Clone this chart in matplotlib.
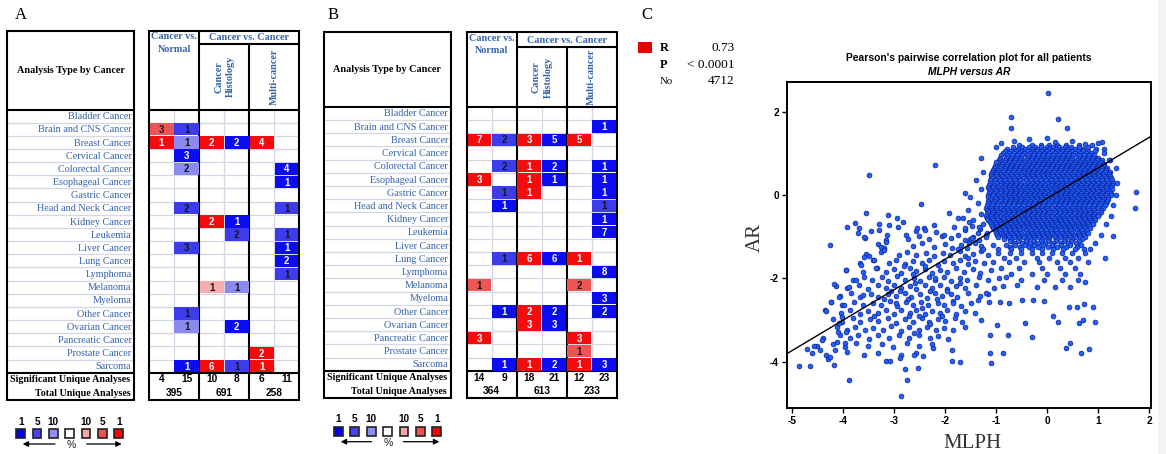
import matplotlib
matplotlib.use("Agg")
import matplotlib.pyplot as plt
from matplotlib.patches import Rectangle
import numpy as np

plt.rcParams["axes.unicode_minus"] = False

# ---------------------------------------------------------------- data
cancer_types = [
    "Bladder Cancer", "Brain and CNS Cancer", "Breast Cancer", "Cervical Cancer",
    "Colorectal Cancer", "Esophageal Cancer", "Gastric Cancer", "Head and Neck Cancer",
    "Kidney Cancer", "Leukemia", "Liver Cancer", "Lung Cancer", "Lymphoma",
    "Melanoma", "Myeloma", "Other Cancer", "Ovarian Cancer", "Pancreatic Cancer",
    "Prostate Cancer", "Sarcoma",
]

# columns: 0/1 cancer vs normal (over/under), 2/3 cancer histology, 4/5 multi-cancer
# cell = (row, column, number of analyses, rank tier: 0 = top 1 %, 1 = top 5 %, 2 = top 10 %)
panel_a_cells = [
    (1, 0, 3, 1), (1, 1, 1, 1),
    (2, 0, 1, 0), (2, 1, 1, 2), (2, 2, 2, 0), (2, 3, 2, 0), (2, 4, 4, 0),
    (3, 1, 3, 0),
    (4, 1, 2, 2), (4, 5, 4, 0),
    (5, 5, 1, 0),
    (7, 1, 2, 1), (7, 5, 1, 1),
    (8, 2, 2, 0), (8, 3, 1, 0),
    (9, 3, 2, 1), (9, 5, 1, 1),
    (10, 1, 3, 1), (10, 5, 1, 0),
    (11, 5, 2, 0),
    (12, 5, 1, 1),
    (13, 2, 1, 2), (13, 3, 1, 2),
    (15, 1, 1, 1),
    (16, 1, 1, 2), (16, 3, 2, 0),
    (18, 4, 2, 0),
    (19, 1, 1, 0), (19, 2, 6, 0), (19, 3, 1, 1), (19, 4, 1, 0),
]
panel_a_significant = [4, 15, 10, 8, 6, 11]
panel_a_total = [395, 691, 258]

panel_b_cells = [
    (1, 5, 1, 0),
    (2, 0, 7, 0), (2, 1, 2, 1), (2, 2, 3, 0), (2, 3, 5, 0), (2, 4, 5, 0),
    (4, 1, 2, 1), (4, 2, 1, 0), (4, 3, 2, 0), (4, 5, 1, 0),
    (5, 0, 3, 0), (5, 2, 1, 0), (5, 3, 1, 0), (5, 5, 1, 0),
    (6, 1, 1, 1), (6, 2, 1, 0), (6, 5, 1, 0),
    (7, 1, 1, 0), (7, 5, 1, 1),
    (8, 5, 1, 0),
    (9, 5, 7, 0),
    (11, 1, 1, 1), (11, 2, 6, 0), (11, 3, 6, 0), (11, 4, 1, 0),
    (12, 5, 8, 0),
    (13, 0, 1, 1), (13, 4, 2, 1),
    (14, 5, 3, 0),
    (15, 1, 1, 0), (15, 2, 2, 0), (15, 3, 2, 0), (15, 5, 2, 0),
    (16, 2, 3, 0), (16, 3, 3, 0),
    (17, 0, 3, 0), (17, 4, 3, 0),
    (18, 4, 1, 1),
    (19, 1, 1, 0), (19, 2, 1, 0), (19, 3, 2, 0), (19, 4, 1, 0), (19, 5, 3, 0),
]
panel_b_significant = [14, 9, 18, 21, 12, 23]
panel_b_total = [364, 613, 233]

scale_labels = ["1", "5", "10", "", "10", "5", "1"]

# correlation statistics
stat_r = "0.73"
stat_p = "< 0.0001"
stat_n = "4712"
fit_slope = 0.731
fit_intercept = -0.082

# MLPH / AR expression, dense core of samples: (AR level, MLPH values)
core_rows = [
    (1.2, [-0.55, -0.3, -0.12, 0.05, 0.2, 0.38, 0.62, 0.88]),
    (1.15, [-0.66, -0.48, -0.36, -0.24, -0.12, 0.0, 0.11, 0.23, 0.36, 0.48, 0.62, 0.8]),
    (1.1, [-0.78, -0.56, -0.43, -0.3, -0.19, -0.06, 0.05, 0.17, 0.3, 0.41, 0.55, 0.7, 0.97, 1.12]),
    (1.05, [-0.82, -0.7, -0.6, -0.5, -0.4, -0.3, -0.2, -0.1, 0.0, 0.1, 0.2, 0.3, 0.4, 0.5, 0.6,
            0.7, 0.81, 0.95]),
    (1.0, [-0.86, -0.74, -0.65, -0.55, -0.45, -0.34, -0.25, -0.15, -0.05, 0.05, 0.16, 0.25, 0.35,
           0.44, 0.55, 0.65, 0.76, 0.86]),
    (0.95, [-0.9, -0.78, -0.68, -0.58, -0.48, -0.38, -0.28, -0.18, -0.08, 0.02, 0.12, 0.22, 0.32,
            0.42, 0.52, 0.62, 0.72, 0.82, 0.93]),
    (0.9, [-0.92, -0.8, -0.7, -0.6, -0.5, -0.4, -0.3, -0.2, -0.1, 0.0, 0.1, 0.2, 0.3, 0.4, 0.5,
           0.6, 0.7, 0.8, 0.9, 1.01]),
    (0.85, [-0.94, -0.82, -0.72, -0.62, -0.52, -0.42, -0.32, -0.22, -0.12, -0.02, 0.08, 0.18, 0.28,
            0.38, 0.48, 0.58, 0.68, 0.78, 0.88, 0.98, 1.08]),
    (0.8, [-0.96, -0.85, -0.75, -0.65, -0.55, -0.45, -0.35, -0.25, -0.15, -0.05, 0.05, 0.15, 0.25,
           0.35, 0.45, 0.55, 0.65, 0.75, 0.85, 0.95, 1.06]),
    (0.75, [-1.0, -0.88, -0.78, -0.68, -0.58, -0.48, -0.38, -0.28, -0.18, -0.08, 0.02, 0.12, 0.22,
            0.32, 0.42, 0.52, 0.62, 0.72, 0.82, 0.92, 1.02, 1.12]),
    (0.7, [-1.02, -0.9, -0.8, -0.7, -0.6, -0.5, -0.4, -0.3, -0.2, -0.1, 0.0, 0.1, 0.2, 0.3, 0.4,
           0.5, 0.6, 0.7, 0.8, 0.9, 1.0, 1.11]),
    (0.65, [-1.04, -0.92, -0.82, -0.72, -0.62, -0.52, -0.42, -0.32, -0.22, -0.12, -0.02, 0.08, 0.18,
            0.28, 0.38, 0.48, 0.58, 0.68, 0.78, 0.88, 0.98, 1.08, 1.18]),
    (0.6, [-1.06, -0.95, -0.85, -0.75, -0.65, -0.55, -0.45, -0.35, -0.25, -0.15, -0.05, 0.05, 0.15,
           0.25, 0.35, 0.45, 0.55, 0.65, 0.75, 0.85, 0.95, 1.05, 1.16]),
    (0.55, [-1.08, -0.97, -0.87, -0.77, -0.67, -0.57, -0.47, -0.37, -0.27, -0.17, -0.07, 0.03, 0.13,
            0.23, 0.33, 0.43, 0.53, 0.63, 0.73, 0.83, 0.93, 1.03, 1.13, 1.23]),
    (0.5, [-1.1, -1.0, -0.9, -0.8, -0.7, -0.6, -0.5, -0.4, -0.3, -0.2, -0.1, 0.0, 0.1, 0.2, 0.3,
           0.4, 0.5, 0.6, 0.7, 0.8, 0.9, 1.0, 1.1, 1.21]),
    (0.45, [-1.1, -0.98, -0.88, -0.78, -0.68, -0.58, -0.48, -0.38, -0.28, -0.18, -0.08, 0.02, 0.12,
            0.22, 0.32, 0.42, 0.52, 0.62, 0.72, 0.82, 0.92, 1.02, 1.12, 1.24]),
    (0.4, [-1.07, -0.95, -0.85, -0.75, -0.65, -0.55, -0.45, -0.35, -0.25, -0.15, -0.05, 0.05, 0.15,
           0.25, 0.35, 0.45, 0.55, 0.65, 0.75, 0.85, 0.95, 1.05, 1.15, 1.26]),
    (0.35, [-1.12, -1.02, -0.92, -0.82, -0.72, -0.62, -0.52, -0.42, -0.32, -0.22, -0.12, -0.02,
            0.08, 0.18, 0.28, 0.38, 0.48, 0.58, 0.68, 0.78, 0.88, 0.98, 1.08, 1.18, 1.28]),
    (0.3, [-1.12, -1.0, -0.9, -0.8, -0.7, -0.6, -0.5, -0.4, -0.3, -0.2, -0.1, 0.0, 0.1, 0.2, 0.3,
           0.4, 0.5, 0.6, 0.7, 0.8, 0.9, 1.0, 1.1, 1.2, 1.3]),
    (0.25, [-1.14, -1.03, -0.93, -0.83, -0.73, -0.63, -0.53, -0.43, -0.33, -0.23, -0.13, -0.03,
            0.07, 0.17, 0.27, 0.37, 0.47, 0.57, 0.67, 0.77, 0.87, 0.97, 1.07, 1.17, 1.28]),
    (0.2, [-1.16, -1.05, -0.95, -0.85, -0.75, -0.65, -0.55, -0.45, -0.35, -0.25, -0.15, -0.05, 0.05,
           0.15, 0.25, 0.35, 0.45, 0.55, 0.65, 0.75, 0.85, 0.95, 1.05, 1.15, 1.26]),
    (0.15, [-1.14, -1.02, -0.92, -0.82, -0.72, -0.62, -0.52, -0.42, -0.32, -0.22, -0.12, -0.02,
            0.08, 0.18, 0.28, 0.38, 0.48, 0.58, 0.68, 0.78, 0.88, 0.98, 1.08, 1.18, 1.27]),
    (0.1, [-1.12, -1.0, -0.9, -0.8, -0.7, -0.6, -0.5, -0.4, -0.3, -0.2, -0.1, 0.0, 0.1, 0.2, 0.3,
           0.4, 0.5, 0.6, 0.7, 0.8, 0.9, 1.0, 1.1, 1.21]),
    (0.05, [-1.14, -1.03, -0.93, -0.83, -0.73, -0.63, -0.53, -0.43, -0.33, -0.23, -0.13, -0.03,
            0.07, 0.17, 0.27, 0.37, 0.47, 0.57, 0.67, 0.77, 0.87, 0.97, 1.07, 1.17, 1.25]),
    (0.0, [-1.16, -1.05, -0.95, -0.85, -0.75, -0.65, -0.55, -0.45, -0.35, -0.25, -0.15, -0.05, 0.05,
           0.15, 0.25, 0.35, 0.45, 0.55, 0.65, 0.75, 0.85, 0.95, 1.05, 1.15, 1.26]),
    (-0.05, [-1.15, -1.02, -0.92, -0.82, -0.72, -0.62, -0.52, -0.42, -0.32, -0.22, -0.12, -0.02,
             0.08, 0.18, 0.28, 0.38, 0.48, 0.58, 0.68, 0.78, 0.88, 0.98, 1.08, 1.2]),
    (-0.1, [-1.12, -1.0, -0.9, -0.8, -0.7, -0.6, -0.5, -0.4, -0.3, -0.2, -0.1, 0.0, 0.1, 0.2, 0.3,
            0.4, 0.5, 0.6, 0.7, 0.8, 0.9, 1.0, 1.1, 1.2]),
    (-0.15, [-1.16, -1.03, -0.93, -0.83, -0.73, -0.63, -0.53, -0.43, -0.33, -0.23, -0.13, -0.03,
             0.07, 0.17, 0.27, 0.37, 0.47, 0.57, 0.67, 0.77, 0.87, 0.97, 1.07, 1.17]),
    (-0.2, [-1.15, -1.05, -0.95, -0.85, -0.75, -0.65, -0.55, -0.45, -0.35, -0.25, -0.15, -0.05, 0.05,
            0.15, 0.25, 0.35, 0.45, 0.55, 0.65, 0.75, 0.85, 0.95, 1.05, 1.15]),
    (-0.25, [-1.18, -1.07, -0.97, -0.87, -0.77, -0.67, -0.57, -0.47, -0.37, -0.27, -0.17, -0.07,
             0.03, 0.13, 0.23, 0.33, 0.43, 0.53, 0.63, 0.73, 0.83, 0.93, 1.03, 1.13]),
    (-0.3, [-1.2, -1.1, -1.0, -0.9, -0.8, -0.7, -0.6, -0.5, -0.4, -0.3, -0.2, -0.1, 0.0, 0.1, 0.2,
            0.3, 0.4, 0.5, 0.6, 0.7, 0.8, 0.9, 1.0, 1.1]),
    (-0.35, [-1.18, -1.07, -0.97, -0.87, -0.77, -0.67, -0.57, -0.47, -0.37, -0.27, -0.17, -0.07,
             0.03, 0.13, 0.23, 0.33, 0.43, 0.53, 0.63, 0.73, 0.83, 0.93, 1.06]),
    (-0.4, [-1.15, -1.05, -0.95, -0.85, -0.75, -0.65, -0.55, -0.45, -0.35, -0.25, -0.15, -0.05, 0.05,
            0.15, 0.25, 0.35, 0.45, 0.55, 0.65, 0.75, 0.85, 0.95, 1.05]),
    (-0.45, [-1.18, -1.07, -0.97, -0.87, -0.77, -0.67, -0.57, -0.47, -0.37, -0.27, -0.17, -0.07,
             0.03, 0.13, 0.23, 0.33, 0.43, 0.53, 0.63, 0.73, 0.83, 0.93, 1.02]),
    (-0.5, [-1.2, -1.1, -1.0, -0.9, -0.8, -0.7, -0.6, -0.5, -0.4, -0.3, -0.2, -0.1, 0.0, 0.1, 0.2,
            0.3, 0.4, 0.5, 0.6, 0.7, 0.8, 0.9, 1.0]),
    (-0.55, [-1.17, -1.07, -0.97, -0.87, -0.77, -0.67, -0.57, -0.47, -0.37, -0.27, -0.17, -0.07,
             0.03, 0.13, 0.23, 0.33, 0.43, 0.53, 0.63, 0.73, 0.83, 0.93]),
    (-0.6, [-1.15, -1.05, -0.95, -0.85, -0.75, -0.65, -0.55, -0.45, -0.35, -0.25, -0.15, -0.05, 0.05,
            0.15, 0.25, 0.35, 0.45, 0.55, 0.65, 0.75, 0.85, 0.95]),
    (-0.65, [-1.12, -1.02, -0.92, -0.82, -0.72, -0.62, -0.52, -0.42, -0.32, -0.22, -0.12, -0.02,
             0.08, 0.18, 0.28, 0.38, 0.48, 0.58, 0.68, 0.78, 0.88]),
    (-0.7, [-1.1, -1.0, -0.9, -0.8, -0.7, -0.6, -0.5, -0.4, -0.3, -0.2, -0.1, 0.0, 0.1, 0.2, 0.3,
            0.4, 0.5, 0.6, 0.7, 0.8, 0.9]),
    (-0.75, [-1.08, -0.97, -0.87, -0.77, -0.67, -0.57, -0.47, -0.37, -0.27, -0.17, -0.07, 0.03,
             0.13, 0.23, 0.33, 0.43, 0.53, 0.63, 0.73, 0.83]),
    (-0.8, [-1.05, -0.95, -0.85, -0.75, -0.65, -0.55, -0.45, -0.35, -0.25, -0.15, -0.05, 0.05, 0.15,
            0.25, 0.35, 0.45, 0.55, 0.65, 0.75, 0.85]),
    (-0.85, [-1.02, -0.92, -0.82, -0.72, -0.62, -0.52, -0.42, -0.32, -0.22, -0.12, -0.02, 0.08,
             0.18, 0.28, 0.38, 0.48, 0.58, 0.68, 0.78]),
    (-0.9, [-1.0, -0.9, -0.8, -0.7, -0.6, -0.5, -0.4, -0.3, -0.2, -0.1, 0.0, 0.1, 0.2, 0.3, 0.4,
            0.5, 0.6, 0.7, 0.8]),
    (-0.95, [-0.98, -0.87, -0.77, -0.67, -0.57, -0.47, -0.37, -0.27, -0.17, -0.07, 0.03, 0.13,
             0.23, 0.33, 0.43, 0.53, 0.63, 0.73]),
    (-1.0, [-0.95, -0.85, -0.75, -0.65, -0.55, -0.45, -0.35, -0.25, -0.15, -0.05, 0.05, 0.15, 0.25,
            0.35, 0.45, 0.55, 0.65, 0.75]),
    (-1.05, [-0.85, -0.7, -0.55, -0.4, -0.25, -0.1, 0.05, 0.2, 0.35, 0.5, 0.68]),
    (-1.1, [-0.72, -0.57, -0.42, -0.27, -0.12, 0.03, 0.18, 0.33, 0.48, 0.63]),
    (-1.15, [-0.65, -0.48, -0.33, -0.18, -0.03, 0.12, 0.27, 0.42, 0.57]),
    (-1.2, [-0.8, -0.62, -0.44, -0.26, -0.08, 0.1, 0.28, 0.46, 0.66]),
    (-1.25, [-0.72, -0.52, -0.36, -0.18, 0.02, 0.2, 0.38, 0.58]),
    (-1.3, [-0.7, -0.5, -0.3, -0.1, 0.12, 0.32, 0.55, 0.72]),
    (-1.4, [-0.95, -0.72, -0.5, -0.3, -0.1, 0.1, 0.3, 0.5, 0.75]),
    (-1.5, [-0.85, -0.6, -0.2, 0.05, 0.35, 0.6]),
    (-1.6, [-1.05, -0.75, -0.45, -0.15, 0.2, 0.45, 0.8]),
    (-1.75, [-0.9, -0.55, -0.1, 0.25, 0.55]),
    (-1.9, [-0.7, -0.3, 0.0, 0.35, 0.65]),
    (-2.05, [-0.5, -0.05, 0.3, 0.6]),
    (-2.2, [-0.2, 0.15, 0.45]),
]

# lower-left group of samples (MLPH, AR)
band_points = [
    (-3.68, -0.78), (-3.3, -0.83), (-2.92, -0.76), (-2.57, -0.86), (-2.41, -0.79), (-2.18, -0.88),
    (-1.82, -0.77), (-1.6, -0.85), (-1.47, -0.75), (-1.31, -0.82), (-1.17, -0.9),
    (-3.57, -1.03), (-3.14, -0.97), (-2.73, -1.05), (-2.5, -0.98), (-2.31, -1.06), (-2.06, -0.99),
    (-1.89, -1.04), (-1.74, -0.96), (-1.61, -1.07), (-1.44, -1.0), (-1.33, -1.09), (-1.19, -0.97),
    (-3.31, -1.18), (-3.2, -1.27), (-2.63, -1.22), (-2.44, -1.15), (-2.21, -1.24), (-1.99, -1.17),
    (-1.86, -1.26), (-1.69, -1.19), (-1.56, -1.28), (-1.41, -1.16), (-1.29, -1.23),
    (-3.54, -1.42), (-3.26, -1.37), (-2.91, -1.44), (-2.74, -1.36), (-2.56, -1.45), (-2.37, -1.38),
    (-2.21, -1.47), (-2.04, -1.39), (-1.91, -1.43), (-1.71, -1.35), (-1.61, -1.46), (-1.44, -1.41),
    (-1.29, -1.34), (-1.16, -1.45),
    (-3.66, -1.62), (-3.41, -1.57), (-3.09, -1.64), (-2.96, -1.55), (-2.79, -1.66), (-2.63, -1.58),
    (-2.44, -1.63), (-2.31, -1.56), (-2.14, -1.67), (-2.01, -1.59), (-1.84, -1.64), (-1.71, -1.55),
    (-1.54, -1.66), (-1.41, -1.58), (-1.24, -1.63),
    (-3.94, -1.79), (-3.61, -1.84), (-3.34, -1.76), (-3.16, -1.85), (-2.99, -1.78), (-2.86, -1.86),
    (-2.69, -1.75), (-2.56, -1.83), (-2.39, -1.77), (-2.26, -1.87), (-2.09, -1.79), (-1.96, -1.84),
    (-1.79, -1.76), (-1.63, -1.85), (-1.44, -1.78), (-1.31, -1.86), (-1.09, -1.8),
    (-3.81, -2.03), (-3.59, -1.96), (-3.43, -2.05), (-3.24, -1.97), (-3.11, -2.06), (-2.94, -1.95),
    (-2.79, -2.04), (-2.61, -1.98), (-2.49, -2.07), (-2.31, -1.96), (-2.19, -2.03), (-2.01, -1.97),
    (-1.89, -2.06), (-1.71, -1.99), (-1.56, -2.04), (-1.34, -1.96), (-1.16, -2.05), (-0.94, -1.98),
    (-4.14, -2.18), (-3.91, -2.23), (-3.69, -2.16), (-3.51, -2.25), (-3.31, -2.17), (-3.16, -2.24),
    (-2.99, -2.15), (-2.86, -2.23), (-2.69, -2.18), (-2.56, -2.26), (-2.39, -2.16), (-2.26, -2.22),
    (-2.09, -2.17), (-1.96, -2.25), (-1.79, -2.19), (-1.61, -2.24), (-1.39, -2.16), (-1.04, -2.22),
    (-0.86, -2.18),
    (-4.06, -2.43), (-3.84, -2.36), (-3.66, -2.44), (-3.44, -2.37), (-3.31, -2.45), (-3.11, -2.38),
    (-2.96, -2.43), (-2.79, -2.35), (-2.66, -2.44), (-2.49, -2.37), (-2.36, -2.46), (-2.19, -2.36),
    (-2.06, -2.43), (-1.89, -2.38), (-1.76, -2.45), (-1.54, -2.36), (-1.31, -2.42), (-1.16, -2.37),
    (-4.24, -2.57), (-4.01, -2.64), (-3.79, -2.56), (-3.61, -2.65), (-3.41, -2.58), (-3.26, -2.63),
    (-3.07, -2.55), (-2.93, -2.66), (-2.77, -2.57), (-2.63, -2.64), (-2.47, -2.56), (-2.33, -2.65),
    (-2.14, -2.58), (-2.01, -2.63), (-1.84, -2.55), (-1.69, -2.66), (-1.49, -2.59),
    (-4.36, -2.77), (-4.04, -2.84), (-3.86, -2.76), (-3.67, -2.85), (-3.51, -2.78), (-3.31, -2.83),
    (-3.16, -2.75), (-2.99, -2.86), (-2.86, -2.77), (-2.69, -2.84), (-2.56, -2.76), (-2.39, -2.85),
    (-2.26, -2.78), (-2.09, -2.83), (-1.96, -2.76), (-1.79, -2.85), (-1.61, -2.78), (-1.41, -2.84),
    (-4.19, -2.97), (-4.01, -3.04), (-3.81, -2.96), (-3.66, -3.05), (-3.47, -2.98), (-3.31, -3.03),
    (-3.11, -2.95), (-2.96, -3.06), (-2.79, -2.97), (-2.63, -3.04), (-2.44, -2.96), (-2.31, -3.05),
    (-2.14, -2.98), (-1.99, -3.03), (-1.81, -2.96), (-1.66, -3.05), (-1.29, -2.99),
    (-4.11, -3.17), (-3.91, -3.24), (-3.76, -3.16), (-3.57, -3.25), (-3.41, -3.18), (-3.21, -3.23),
    (-3.06, -3.15), (-2.87, -3.26), (-2.71, -3.17), (-2.51, -3.24), (-2.36, -3.16), (-2.17, -3.25),
    (-2.01, -3.18), (-1.84, -3.23), (-1.61, -3.17),
    (-4.39, -3.43), (-4.06, -3.36), (-3.87, -3.44), (-3.71, -3.37), (-3.49, -3.45), (-3.31, -3.36),
    (-3.09, -3.43), (-2.91, -3.37), (-2.71, -3.44), (-2.51, -3.36), (-2.29, -3.43), (-2.13, -3.38),
    (-1.94, -3.45),
    (-4.51, -3.62), (-4.19, -3.57), (-3.96, -3.65), (-3.74, -3.56), (-3.51, -3.63), (-3.24, -3.58),
    (-3.01, -3.64), (-2.74, -3.56), (-2.51, -3.63), (-2.26, -3.57),
    (-4.61, -3.78), (-4.34, -3.84), (-3.91, -3.77), (-3.59, -3.83), (-3.31, -3.79), (-2.86, -3.84),
    (-2.56, -3.78),
    (-2.88, -2.3), (-2.72, -2.5), (-2.58, -2.12), (-2.45, -2.7), (-2.3, -2.3), (-2.15, -2.5),
    (-2.05, -2.9), (-2.5, -2.9), (-2.7, -2.9), (-2.95, -2.6), (-3.05, -2.3), (-2.62, -1.9),
    (-2.4, -1.7), (-2.2, -2.0), (-1.95, -2.3), (-1.85, -2.6), (-2.8, -1.7), (-3.2, -2.5),
    (-3.4, -2.9), (-3.6, -2.4), (-2.3, -3.1), (-2.6, -3.3), (-1.7, -2.1), (-1.55, -1.5),
    (-1.75, -1.3),
]

# isolated samples (MLPH, AR)
scattered_points = [
    (0.03, 2.46), (-0.7, 1.87), (-0.7, 1.62), (0.22, 1.83), (0.4, 1.62), (1.08, 1.27),
    (-1.0, 0.79), (1.24, 0.84), (1.75, 0.08), (1.73, -0.32),
    (-1.0, 1.15), (-0.9, 1.25), (-0.65, 1.3), (-0.35, 1.35), (0.0, 1.38), (0.15, 1.28),
    (0.5, 1.3), (0.75, 1.22), (1.0, 1.25), (1.12, 1.0), (1.22, 0.85),
    (1.35, 0.65), (1.38, 0.3), (1.35, 0.0), (1.3, -0.25), (1.25, -0.5), (1.15, -0.7),
    (1.05, -0.95), (0.95, -1.15), (0.85, -1.3),
    (-1.3, 0.9), (-1.25, 0.55), (-1.4, 0.35), (-1.3, 0.15), (-1.5, -0.05), (-1.35, -0.2),
    (-1.55, -0.35), (-1.3, -0.45), (-1.45, -0.6), (-1.25, -0.7), (-1.6, -0.8), (-1.35, -0.9),
    (-1.2, -1.0), (-1.5, -1.05), (-1.05, -1.2), (-1.25, -1.3), (-0.95, -1.3),
    (-3.48, 0.48), (-2.2, 0.72), (-2.47, -0.22), (-3.55, -0.42), (-4.25, -1.2), (-3.91, -0.76),
    (-3.76, -0.66), (-3.71, -0.92), (-3.58, -1.0), (-3.45, -0.86), (-3.29, -0.7), (-3.11, -0.48),
    (-2.93, -0.54), (-2.82, -0.64), (-2.76, -0.96), (-3.09, -0.72), (-3.16, -1.08), (-2.54, -0.8),
    (-2.39, -0.84), (-2.22, -0.72), (-1.92, -0.44), (-2.01, -0.96), (-1.6, 0.06), (-1.65, -0.56),
    (-1.75, -0.56), (-1.52, -0.64), (-1.33, -0.76), (-1.46, -1.04), (-1.52, -1.16),
    (-4.24, -2.56), (-4.17, -2.14), (-4.33, -2.78), (-4.86, -4.1), (-4.64, -4.1), (-4.71, -3.7),
    (-4.56, -3.62), (-4.44, -3.72), (-4.41, -3.48), (-4.3, -3.94), (-4.25, -3.88), (-4.18, -4.08),
    (-4.15, -3.72), (-4.12, -3.52), (-4.1, -3.28), (-4.08, -3.06), (-4.01, -2.92), (-3.88, -4.44),
    (-3.96, -3.56), (-3.94, -3.28), (-3.97, -2.64), (-4.07, -2.44), (-3.94, -1.8), (-3.88, -2.2),
    (-3.75, -2.04), (-3.65, -1.68), (-3.58, -1.48), (-3.48, -1.46), (-3.39, -1.56), (-3.35, -1.76),
    (-3.25, -1.24), (-3.16, -1.12), (-3.19, -1.32),
    (-3.16, -3.98), (-3.08, -3.98), (-2.88, -3.92), (-2.86, -4.82), (-2.78, -4.18), (-2.74, -4.44),
    (-2.52, -4.14), (-2.6, -3.84), (-2.42, -3.86), (-2.24, -3.68), (-1.87, -3.72), (-1.87, -3.98),
    (-1.71, -4.0), (-1.12, -3.78), (-1.1, -4.02), (-0.86, -3.8), (-1.12, -3.36), (-0.76, -3.36),
    (-0.98, -3.12), (-0.44, -3.08), (-0.29, -3.4), (0.12, -2.9), (0.21, -3.04), (0.44, -2.68),
    (0.59, -2.68), (0.72, -2.62), (0.9, -2.68), (0.46, -3.54), (0.37, -3.66), (0.67, -3.78),
    (0.82, -3.7), (0.63, -3.08), (0.7, -3.0), (0.95, -3.04), (1.14, -1.52), (1.29, -0.98),
    (0.75, -2.08), (-0.05, -2.54), (-0.28, -2.52), (-0.48, -2.52), (-0.74, -2.6), (-0.93, -2.56),
    (-1.14, -2.56), (-1.2, -2.36), (-1.36, -2.52), (-0.58, -2.16), (-0.8, -1.96),
]

# ---------------------------------------------------------------- styling
SERIF = ["Liberation Serif", "DejaVu Serif"]
SANS = ["Liberation Sans", "DejaVu Sans"]
LINK_BLUE = "#3262ad"
GRID = "#d3d7e6"
BLUE_TIERS = ["#0c0cf2", "#3c3cec", "#8a8af0"]
RED_TIERS = ["#f40c0c", "#f05454", "#f6aeae"]
SCALE_COLORS = ["#0000ff", "#4444f4", "#9090f4", "#ffffff", "#f6a4a4", "#f05050", "#ff0000"]

W, H = 1166, 454
fig = plt.figure(figsize=(W / 100, H / 100), dpi=100)
canvas = fig.add_axes([0, 0, 1, 1])
canvas.set_xlim(0, W)
canvas.set_ylim(H, 0)
canvas.axis("off")


def hline(x0, x1, y, color="black", lw=1.5):
    canvas.plot([x0, x1], [y, y], color=color, lw=lw, solid_capstyle="butt")


def vline(x, y0, y1, color="black", lw=1.5):
    canvas.plot([x, x], [y0, y1], color=color, lw=lw, solid_capstyle="butt")


def draw_table(lay, cells, significant, total):
    lx0, lx1 = lay["lx0"], lay["lx1"]
    gx0, cw = lay["gx0"], lay["cw"]
    gx1 = gx0 + 6 * cw
    top, sub_y, hb, rh, sh = lay["top"], lay["sub_y"], lay["hb"], lay["rh"], lay["sh"]
    body_end = hb + rh * len(cancer_types)
    bottom = body_end + 2 * sh

    # light row separators
    for i in range(1, len(cancer_types)):
        y = hb + i * rh
        hline(lx0, lx1, y, GRID, 0.9)
        hline(gx0, gx1, y, GRID, 0.9)
    for c in (1, 3, 5):
        vline(gx0 + c * cw, hb, body_end, GRID, 0.9)

    # coloured cells
    for r, c, n, tier in cells:
        fill = (RED_TIERS if c % 2 == 0 else BLUE_TIERS)[tier]
        canvas.add_patch(Rectangle((gx0 + c * cw + 0.4, hb + r * rh + 0.4), cw - 0.8, rh - 0.8,
                                   facecolor=fill, edgecolor="none", zorder=3))
        canvas.text(gx0 + (c + 0.5) * cw, hb + (r + 0.55) * rh, str(n), ha="center", va="center",
                    fontsize=6.9, fontweight="bold", family=SANS,
                    color="white" if tier == 0 else "#151515", zorder=4)

    # row labels
    for i, name in enumerate(cancer_types):
        canvas.text(lx1 - 2.5, hb + (i + 0.55) * rh, name, ha="right", va="center",
                    fontsize=7.3, family=SERIF, color=LINK_BLUE)

    # frames
    for x0, x1 in ((lx0, lx1), (gx0, gx1)):
        canvas.add_patch(Rectangle((x0, top), x1 - x0, bottom - top, fill=False,
                                   edgecolor="black", lw=1.5, zorder=5))
        hline(x0, x1, hb)
        hline(x0, x1, body_end)
    vline(gx0 + 2 * cw, top, bottom)
    vline(gx0 + 4 * cw, sub_y, bottom)
    hline(gx0 + 2 * cw, gx1, sub_y)

    # headers
    canvas.text((lx0 + lx1) / 2, (top + hb) / 2, "Analysis Type by Cancer", ha="center",
                va="center", fontsize=7.3, fontweight="bold", family=SERIF)
    cx = gx0 + cw
    canvas.text(cx, top + 6.2, "Cancer vs.", ha="center", va="center", fontsize=7.3,
                fontweight="bold", family=SERIF, color=LINK_BLUE)
    canvas.text(cx, top + 18.6, "Normal", ha="center", va="center", fontsize=7.3,
                fontweight="bold", family=SERIF, color=LINK_BLUE)
    canvas.text(gx0 + 4 * cw, (top + sub_y) / 2 + 0.6, "Cancer vs. Cancer", ha="center",
                va="center", fontsize=7.3, fontweight="bold", family=SERIF, color=LINK_BLUE)
    canvas.text(gx0 + 3 * cw + 0.5, (sub_y + hb) / 2, "Cancer\nHistology", rotation=90,
                ha="center", va="center", multialignment="center", linespacing=1.35,
                fontsize=7.3, fontweight="bold", family=SERIF, color=LINK_BLUE)
    canvas.text(gx0 + 5 * cw, (sub_y + hb) / 2, "Multi-cancer", rotation=90,
                ha="center", va="center", fontsize=7.3, fontweight="bold", family=SERIF,
                color=LINK_BLUE)

    # summary rows
    sig_y = body_end + sh * 0.5
    tot_y = body_end + sh * 1.5
    canvas.text(lx1 - 3.5, sig_y, "Significant Unique Analyses", ha="right", va="center",
                fontsize=7.2, fontweight="bold", family=SERIF)
    canvas.text(lx1 - 3.5, tot_y, "Total Unique Analyses", ha="right", va="center",
                fontsize=7.2, fontweight="bold", family=SERIF)
    for c, n in enumerate(significant):
        canvas.text(gx0 + (c + 0.5) * cw, sig_y, str(n), ha="center", va="center",
                    fontsize=7.3, fontweight="bold", family=SANS)
    for g, n in enumerate(total):
        canvas.text(gx0 + (2 * g + 1) * cw, tot_y, str(n), ha="center", va="center",
                    fontsize=7.3, fontweight="bold", family=SANS)


def draw_scale(x0, step, y_num, y_box, y_arrow, arrows, pct_xy):
    for i, (lab, col) in enumerate(zip(scale_labels, SCALE_COLORS)):
        cx = x0 + i * step
        canvas.add_patch(Rectangle((cx - 4.4, y_box - 4.4), 8.8, 8.8, facecolor=col,
                                   edgecolor="#222222", lw=1.2))
        if lab:
            canvas.text(cx, y_num, lab, ha="center", va="center", fontsize=7.2,
                        fontweight="bold", family=SANS)
    for xs, xe in arrows:
        canvas.annotate("", xy=(xe, y_arrow), xytext=(xs, y_arrow),
                        arrowprops=dict(arrowstyle="-|>", color="black", lw=0.9,
                                        mutation_scale=8, shrinkA=0, shrinkB=0))
    canvas.text(pct_xy[0], pct_xy[1], "%", ha="center", va="center", fontsize=7.5,
                family=SANS, color="#222222")


layout_a = dict(lx0=7, lx1=134, gx0=149, cw=25.05, top=30.7, sub_y=44, hb=109.5, rh=13.16, sh=13.6)
layout_b = dict(lx0=324, lx1=450.7, gx0=466.7, cw=25.0, top=32.3, sub_y=47.3, hb=106.7, rh=13.21,
                sh=13.65)

draw_table(layout_a, panel_a_cells, panel_a_significant, panel_a_total)
draw_table(layout_b, panel_b_cells, panel_b_significant, panel_b_total)

draw_scale(20.7, 16.33, 421.7, 433.3, 444, [(55, 22.7), (86.7, 121.7)], (71.7, 445.5))
draw_scale(338.3, 16.4, 419.3, 431.7, 441.7, [(371.7, 340.7), (403.3, 439.3)], (388.3, 443))

# panel letters
for letter, x in (("A", 21), ("B", 333.5), ("C", 646.5)):
    canvas.text(x, 15, letter, ha="center", va="center", fontsize=12, family=SERIF)

# correlation summary
canvas.add_patch(Rectangle((638, 41.7), 13.5, 11.6, facecolor="#e80000", edgecolor="none"))
canvas.text(660, 48.3, "R", ha="left", va="center", fontsize=9, fontweight="bold", family=SERIF)
canvas.text(734.5, 48.3, stat_r, ha="right", va="center", fontsize=9.5, family=SERIF)
canvas.text(660, 65, "P", ha="left", va="center", fontsize=9, fontweight="bold", family=SERIF)
canvas.text(734.5, 65, stat_p, ha="right", va="center", fontsize=9.5, family=SERIF)
canvas.text(660, 81.7, "No", ha="left", va="center", fontsize=7.8, family=SERIF)
canvas.text(734.5, 81.3, stat_n, ha="right", va="center", fontsize=9.5, family=SERIF)

# faint page edge on the right
canvas.add_patch(Rectangle((1158, 0), 8, H, facecolor="#f4f4f4", edgecolor="none"))

# ---------------------------------------------------------------- scatter
mlph = []
ar = []
for y, xs in core_rows:
    mlph.extend(xs)
    ar.extend([y] * len(xs))
for x, y in band_points + scattered_points:
    mlph.append(x)
    ar.append(y)
mlph = np.array(mlph)
ar = np.array(ar)

ax_l, ax_r, ax_t, ax_b = 787.3, 1150.5, 81.7, 407.5
ax = fig.add_axes([ax_l / W, 1 - ax_b / H, (ax_r - ax_l) / W, (ax_b - ax_t) / H])
ax.set_facecolor("white")
ax.scatter(mlph, ar, s=12, facecolor="#2060ff", edgecolor="#0c1f92", linewidths=0.5, zorder=2)
xfit = np.array([-5.2, 2.2])
ax.plot(xfit, fit_slope * xfit + fit_intercept, color="black", lw=1.0, zorder=3)
ax.set_xlim(-5.09, 2.03)
ax.set_ylim(-5.10, 2.72)
ax.set_xticks([-5, -4, -3, -2, -1, 0, 1, 2])
ax.set_yticks([-4, -2, 0, 2])
ax.tick_params(direction="out", length=3.5, width=1, labelsize=7.3, pad=2.5)
for lab in ax.get_xticklabels() + ax.get_yticklabels():
    lab.set_fontweight("bold")
    lab.set_family(SANS)
for sp in ax.spines.values():
    sp.set_linewidth(1.4)

canvas.text((ax_l + ax_r) / 2, 58.3, "Pearson's pairwise correlation plot for all patients",
            ha="center", va="center", fontsize=7.4, fontweight="bold", family=SANS)
canvas.text((ax_l + ax_r) / 2, 72.3, "MLPH versus AR", ha="center", va="center", fontsize=7.4,
            fontweight="bold", fontstyle="italic", family=SANS)
canvas.text(972, 444, "MLPH", ha="center", va="center", fontsize=15, family=SERIF, color="#333333")
canvas.text(755, 238, "AR", ha="center", va="center", rotation=90, fontsize=15, family=SERIF,
            color="#333333")

fig.savefig("out.png", dpi=100)
